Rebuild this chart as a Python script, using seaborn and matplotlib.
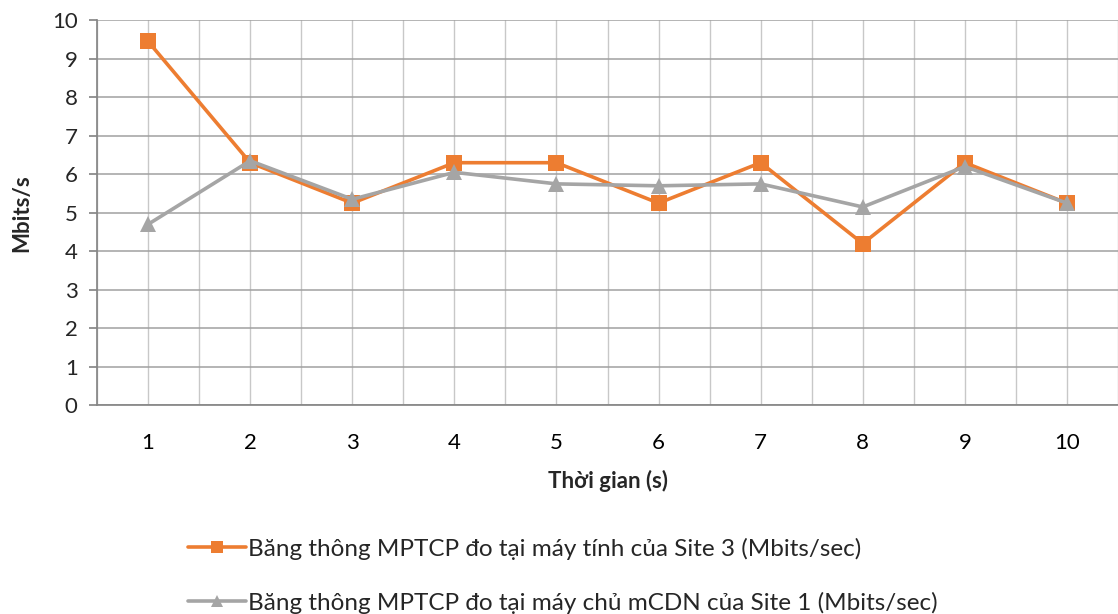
import seaborn as sns
import matplotlib.pyplot as plt
import pandas as pd
from matplotlib.ticker import FixedLocator

# Data
seconds = [1, 2, 3, 4, 5, 6, 7, 8, 9, 10]
site3_pc = [9.45, 6.3, 5.25, 6.3, 6.3, 5.25, 6.3, 4.2, 6.3, 5.25]
site1_cdn = [4.7, 6.35, 5.35, 6.05, 5.75, 5.7, 5.75, 5.15, 6.2, 5.25]
label_site3 = 'Băng thông MPTCP đo tại máy tính của Site 3 (Mbits/sec)'
label_site1 = 'Băng thông MPTCP đo tại máy chủ mCDN của Site 1 (Mbits/sec)'

df = pd.DataFrame({'t': seconds * 2,
                   'bw': site3_pc + site1_cdn,
                   'series': [label_site3] * 10 + [label_site1] * 10})

sns.set_theme(style='white')
plt.rcParams['font.family'] = ['Lato', 'Open Sans', 'DejaVu Sans']

fig = plt.figure(figsize=(11.18, 6.14), dpi=100)
ax = fig.add_axes([0.0868, 0.340, 0.9132, 0.627])

palette = {label_site3: '#ED7D31', label_site1: '#A5A5A5'}
markers = {label_site3: 's', label_site1: '^'}
sns.lineplot(data=df, x='t', y='bw', hue='series', style='series',
             palette=palette, markers=markers, dashes=False,
             linewidth=2.6, markersize=11, markeredgewidth=0, ax=ax)

ax.set_xlim(0.5, 10.5)
ax.set_ylim(0, 10)
ax.set_yticks(range(0, 11))
ax.set_xticks(seconds)
ax.xaxis.set_minor_locator(FixedLocator([x + 0.5 for x in range(0, 11)]))

ax.tick_params(axis='x', which='major', length=0, labelsize=16, pad=20, colors='black')
ax.tick_params(axis='x', which='minor', length=8, color='#868686', width=1)
ax.tick_params(axis='y', length=6, color='#868686', labelsize=16, pad=8, left=True)

ax.grid(axis='y', color='#A0A0A0', linewidth=1.1)
ax.grid(axis='x', which='both', color='#C8C8C8', linewidth=1)
ax.set_axisbelow(True)

for side in ['top', 'right']:
    ax.spines[side].set_visible(False)
ax.spines['left'].set_color('#868686')
ax.spines['bottom'].set_color('#868686')

ax.set_xlabel('Thời gian (s)', fontsize=16, fontweight='bold', labelpad=12)
ax.set_ylabel('Mbits/s', fontsize=16, fontweight='bold', labelpad=14)

handles, labels = ax.get_legend_handles_labels()
ax.legend(handles, labels, loc='upper left', bbox_to_anchor=(0.072, -0.30),
          frameon=False, fontsize=17.5, handlelength=2.4, handletextpad=0.1,
          labelspacing=1.3, borderpad=0.2, markerscale=0.85)

fig.savefig('out.png', dpi=100)
